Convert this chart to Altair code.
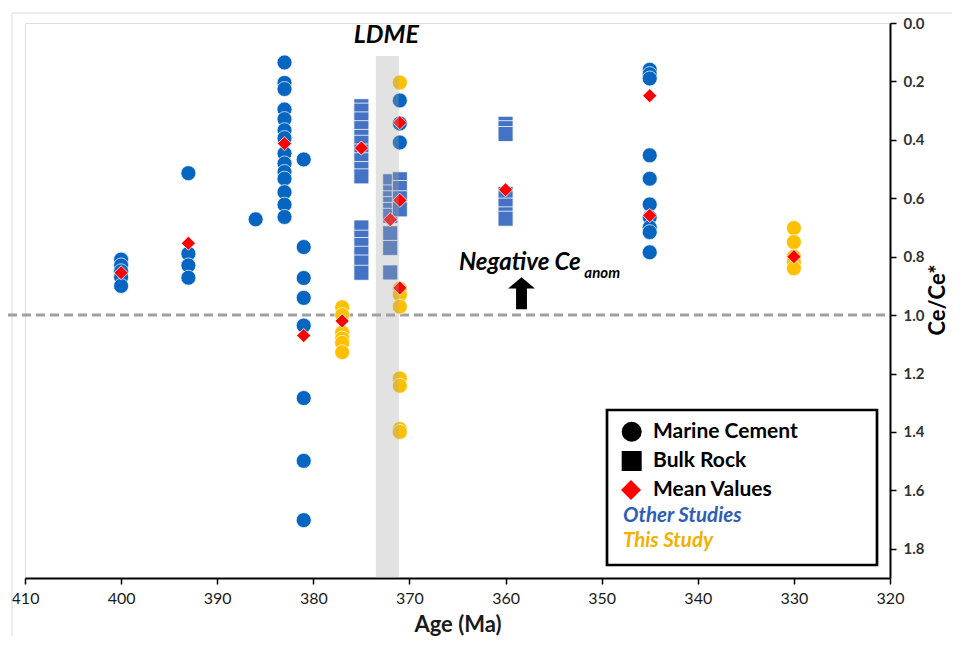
import altair as alt
import pandas as pd

# ---------------- data ----------------
# Marine cement, other studies (blue circles)
mc_other_age = [400]*5 + [393]*4 + [386] + [383]*14 + [381]*8 + [371]*3 + [345]*10
mc_other_val = [0.81, 0.83, 0.85, 0.87, 0.90,
                0.514, 0.79, 0.83, 0.872,
                0.672,
                0.135, 0.205, 0.226, 0.296, 0.329, 0.367, 0.394, 0.447, 0.481, 0.51, 0.533, 0.579, 0.622, 0.664,
                0.467, 0.767, 0.873, 0.941, 1.036, 1.284, 1.499, 1.702,
                0.265, 0.344, 0.409,
                0.16, 0.175, 0.19, 0.453, 0.533, 0.621, 0.665, 0.70, 0.716, 0.785]

# Marine cement, this study (yellow circles)
mc_this_age = [377]*6 + [371]*8 + [330]*5
mc_this_val = [0.973, 1.0, 1.06, 1.08, 1.095, 1.127,
               0.204, 0.91, 0.93, 0.971, 1.217, 1.242, 1.39, 1.40,
               0.702, 0.75, 0.80, 0.82, 0.84]

# Bulk rock (squares, other studies)
br_age = [375]*16 + [372]*9 + [371]*4 + [360]*8
br_val = [0.285, 0.30, 0.33, 0.36, 0.39, 0.41, 0.44, 0.47, 0.50, 0.525, 0.70, 0.735, 0.76, 0.79, 0.82, 0.855,
          0.542, 0.58, 0.60, 0.62, 0.64, 0.66, 0.72, 0.77, 0.854,
          0.535, 0.565, 0.60, 0.638,
          0.345, 0.36, 0.38, 0.585, 0.60, 0.625, 0.655, 0.67]

# Mean values (red diamonds)
mean_age = [400, 393, 383, 381, 377, 375, 372, 371, 371, 371, 360, 345, 345, 330]
mean_val = [0.855, 0.754, 0.413, 1.07, 1.02, 0.428, 0.673, 0.341, 0.607, 0.907, 0.571, 0.249, 0.659, 0.80]

x_ticks = [410, 400, 390, 380, 370, 360, 350, 340, 330, 320]
y_ticks = [0.0, 0.2, 0.4, 0.6, 0.8, 1.0, 1.2, 1.4, 1.6, 1.8]

ldme_start, ldme_end = 373.5, 371.1

FONT = "Lato"
W, H = 865, 555

mc_df = pd.DataFrame({
    "age": mc_other_age + mc_this_age,
    "val": mc_other_val + mc_this_val,
    "study": ["Other Studies"]*len(mc_other_age) + ["This Study"]*len(mc_this_age),
})
br_df = pd.DataFrame({"age": br_age, "val": br_val})
mean_df = pd.DataFrame({"age": mean_age, "val": mean_val})

xscale = alt.Scale(domain=[320, 410], reverse=True, nice=False, zero=False)
yscale = alt.Scale(domain=[0, 1.9], reverse=True, nice=False, zero=False)

X = alt.X("age:Q", scale=xscale, axis=alt.Axis(
    values=x_ticks, format="d", title="Age (Ma)", grid=False, labelFlush=False,
    labelFont=FONT, labelFontSize=16, labelColor="#1a1a1a", labelPadding=6,
    titleFont=FONT, titleFontSize=22, titleFontWeight="bold", titleColor="#1a1a1a", titlePadding=8,
    domainColor="#000", domainWidth=2, tickColor="#000", tickWidth=1.5, tickSize=6))
Y = alt.Y("val:Q", scale=yscale, axis=alt.Axis(
    orient="right", values=y_ticks, format=".1f", title=None, grid=False, labelFlush=False,
    labelFont=FONT, labelFontSize=15, labelFontWeight="bold", labelColor="#333", labelPadding=7,
    domainColor="#000", domainWidth=2, tickColor="#000", tickWidth=1.5, tickSize=6))

base_empty = pd.DataFrame({"a": [0]})

border = alt.Chart(base_empty).mark_rect(fill=None, stroke="#D9D9D9", strokeWidth=1).encode(
    x=alt.value(-13), x2=alt.value(1000), y=alt.value(-10), y2=alt.value(700))

dashed = alt.Chart(pd.DataFrame({"val": [1.0]})).mark_rule(
    color="#A0A0A0", strokeWidth=3, strokeDash=[9, 5]).encode(
    y=alt.Y("val:Q", scale=yscale), x=alt.value(-17), x2=alt.value(W))

circles = alt.Chart(mc_df).mark_point(
    filled=True, shape="circle", size=225, stroke="white", strokeWidth=0.7, opacity=1).encode(
    x=X, y=Y,
    fill=alt.Fill("study:N", scale=alt.Scale(domain=["Other Studies", "This Study"],
                                             range=["#0565C0", "#FFC000"]), legend=None))

squares = alt.Chart(br_df).mark_point(
    filled=True, shape="square", size=225, fill="#4472C4", stroke="white", strokeWidth=0.8, opacity=1).encode(
    x=alt.X("age:Q", scale=xscale), y=alt.Y("val:Q", scale=yscale))

means = alt.Chart(mean_df).mark_point(
    filled=True, shape="diamond", size=200, fill="#FF0000", stroke="white", strokeWidth=0.8, opacity=1).encode(
    x=alt.X("age:Q", scale=xscale), y=alt.Y("val:Q", scale=yscale))

band = alt.Chart(pd.DataFrame({"x1": [ldme_start], "x2": [ldme_end], "y1": [0.113], "y2": [1.9]})).mark_rect(
    fill="#A6A6A6", opacity=0.32).encode(
    x=alt.X("x1:Q", scale=xscale), x2="x2:Q",
    y=alt.Y("y1:Q", scale=yscale), y2="y2:Q")

ldme = alt.Chart(pd.DataFrame({"age": [372.4], "val": [0.04], "t": ["LDME"]})).mark_text(
    font=FONT, fontSize=25, fontWeight="bold", fontStyle="italic", color="#000",
    align="center", baseline="middle").encode(
    x=alt.X("age:Q", scale=xscale), y=alt.Y("val:Q", scale=yscale), text="t:N")

neg = alt.Chart(pd.DataFrame({"age": [364.85], "val": [0.823], "t": ["Negative Ce"]})).mark_text(
    font=FONT, fontSize=24, fontWeight="bold", fontStyle="italic", color="#000",
    align="left", baseline="middle").encode(
    x=alt.X("age:Q", scale=xscale), y=alt.Y("val:Q", scale=yscale), text="t:N")
neg_sub = alt.Chart(pd.DataFrame({"age": [351.8], "val": [0.856], "t": ["anom"]})).mark_text(
    font=FONT, fontSize=15, fontWeight="bold", fontStyle="italic", color="#000",
    align="left", baseline="middle").encode(
    x=alt.X("age:Q", scale=xscale), y=alt.Y("val:Q", scale=yscale), text="t:N")

arrow_path = "M0,-1L0.84,-0.31L0.34,-0.31L0.34,1L-0.34,1L-0.34,-0.31L-0.84,-0.31Z"
arrow = alt.Chart(pd.DataFrame({"age": [358.34], "val": [0.9256]})).mark_point(
    shape=arrow_path, filled=True, fill="#000", size=1024, opacity=1, strokeWidth=0).encode(
    x=alt.X("age:Q", scale=xscale), y=alt.Y("val:Q", scale=yscale))

# y axis title, drawn as text reading bottom-to-top
ytitle = alt.Chart(pd.DataFrame({"px": [913], "py": [277], "t": ["Ce/Ce*"]})).mark_text(
    font=FONT, fontSize=22, fontWeight="bold", color="#000", angle=270,
    align="center", baseline="middle").encode(
    x=alt.X("px:Q", scale=None), y=alt.Y("py:Q", scale=None), text="t:N")

# ---------------- legend (drawn manually) ----------------
leg_box = alt.Chart(base_empty).mark_rect(fill="white", stroke="#000", strokeWidth=2.7).encode(
    x=alt.value(582), x2=alt.value(852), y=alt.value(387), y2=alt.value(542))

leg_sym_df = pd.DataFrame({
    "px": [606.7, 606.7, 606.0],
    "py": [408.7, 438.0, 467.0],
    "shape": ["circle", "square", "diamond"],
    "col": ["#000000", "#000000", "#FF0000"],
})
leg_syms = alt.Chart(leg_sym_df).mark_point(filled=True, size=400, opacity=1).encode(
    x=alt.X("px:Q", scale=None), y=alt.Y("py:Q", scale=None),
    shape=alt.Shape("shape:N", scale=None), fill=alt.Fill("col:N", scale=None))

leg_txt_df = pd.DataFrame({
    "px": [628, 628, 628],
    "py": [408.7, 438.0, 467.0],
    "t": ["Marine Cement", "Bulk Rock", "Mean Values"],
})
leg_txt = alt.Chart(leg_txt_df).mark_text(
    font=FONT, fontSize=21, fontWeight="bold", color="#000", align="left", baseline="middle").encode(
    x=alt.X("px:Q", scale=None), y=alt.Y("py:Q", scale=None), text="t:N")

leg_study_df = pd.DataFrame({
    "px": [598, 598],
    "py": [493.0, 517.5],
    "t": ["Other Studies", "This Study"],
    "col": ["#2F5DB5", "#F2B000"],
})
leg_study = alt.Chart(leg_study_df).mark_text(
    font=FONT, fontSize=20.5, fontWeight="bold", fontStyle="italic", align="left", baseline="middle").encode(
    x=alt.X("px:Q", scale=None), y=alt.Y("py:Q", scale=None), text="t:N",
    color=alt.Color("col:N", scale=None))

chart = alt.layer(
    border, dashed, circles, squares, means, band, ldme, neg, neg_sub, arrow, ytitle,
    leg_box, leg_syms, leg_txt, leg_study
).resolve_scale(x="shared", y="shared").properties(
    width=W, height=H,
    autosize=alt.AutoSizeParams(type="none"),
    padding={"left": 17, "top": 15, "right": 62, "bottom": 58},
).configure_view(stroke=None).configure(background="white")

chart.save("out.html", embed_options={"renderer": "svg", "actions": False})
